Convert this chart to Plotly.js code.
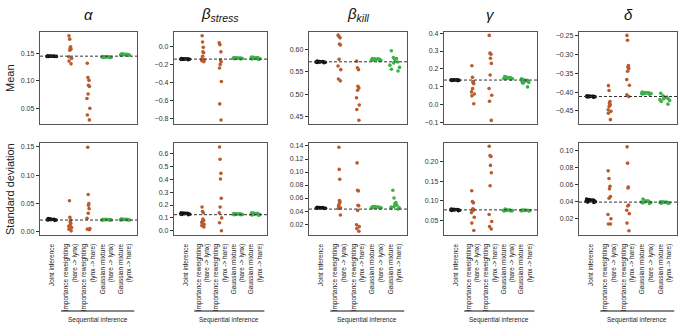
<!DOCTYPE html>
<html><head><meta charset="utf-8">
<script src="https://cdn.plot.ly/plotly-3.0.1.min.js"></script>
<style>html,body{margin:0;padding:0;background:#fff}#chart{width:685px;height:330px}</style>
</head><body><div id="chart"></div>
<script>
// ---------- categories & labels ----------
const categories = ["Joint inference", "Importance reweighting<br>(hare -> lynx)", "Importance reweighting<br>(lynx -> hare)", "Gaussian mixture<br>(hare -> lynx)", "Gaussian mixture<br>(lynx -> hare)"];
const paramTitles = ["<i>α</i>", "<i>β<sub>stress</sub></i>", "<i>β<sub>kill</sub></i>", "<i>γ</i>", "<i>δ</i>"];
const rowTitles = ["Mean", "Standard deviation"];
const seriesColors = ["#111111", "#bb5a2b", "#bb5a2b", "#3db04a", "#3db04a"];

// ---------- data: [joint, IR hare->lynx, IR lynx->hare, GM hare->lynx, GM lynx->hare] ----------
const meanAlpha = [
  [0.1445,0.1450,0.1448,0.1452,0.1446,0.1443,0.1455,0.1449,0.1447,0.1451],
  [0.182,0.176,0.162,0.160,0.158,0.156,0.144,0.141,0.136,0.131],
  [0.132,0.106,0.101,0.092,0.090,0.076,0.068,0.050,0.038,0.029],
  [0.1425,0.1430,0.1435,0.1428,0.1440,0.1432,0.1438,0.1427,0.1433,0.1442],
  [0.1465,0.1470,0.1480,0.1495,0.1475,0.1468,0.1485,0.1472,0.1478,0.1490]];
const meanBetaStress = [
  [-0.140,-0.137,-0.143,-0.145,-0.138,-0.141,-0.135,-0.147,-0.142,-0.139],
  [0.12,0.05,-0.01,-0.06,-0.07,-0.11,-0.14,-0.15,-0.16,-0.17],
  [0.04,0.02,-0.06,-0.15,-0.17,-0.20,-0.24,-0.39,-0.64,-0.82],
  [-0.130,-0.128,-0.135,-0.132,-0.125,-0.138,-0.130,-0.127,-0.133,-0.136],
  [-0.120,-0.125,-0.130,-0.135,-0.140,-0.118,-0.128,-0.133,-0.138,-0.145]];
const meanBetaKill = [
  [0.572,0.573,0.571,0.5725,0.5715,0.574,0.5705,0.573,0.572,0.5718],
  [0.632,0.629,0.626,0.612,0.610,0.578,0.563,0.555,0.534,0.530],
  [0.574,0.559,0.555,0.518,0.514,0.509,0.492,0.476,0.466,0.442],
  [0.576,0.578,0.579,0.577,0.580,0.575,0.578,0.577,0.579,0.576],
  [0.597,0.582,0.580,0.578,0.572,0.570,0.565,0.560,0.556,0.552]];
const meanGamma = [
  [0.138,0.139,0.137,0.140,0.136,0.138,0.139,0.137,0.135,0.138],
  [0.218,0.153,0.130,0.125,0.118,0.090,0.072,0.060,0.050,0.006],
  [0.387,0.288,0.282,0.260,0.231,0.166,0.091,0.053,0.020,-0.087],
  [0.150,0.145,0.148,0.155,0.143,0.152,0.147,0.157,0.146,0.150],
  [0.145,0.140,0.135,0.130,0.128,0.125,0.120,0.132,0.137,0.100]];
const meanDelta = [
  [-0.411,-0.412,-0.413,-0.4115,-0.410,-0.4125,-0.414,-0.411,-0.412,-0.4105],
  [-0.383,-0.396,-0.425,-0.430,-0.434,-0.438,-0.447,-0.451,-0.456,-0.473],
  [-0.250,-0.263,-0.330,-0.334,-0.338,-0.345,-0.367,-0.382,-0.407,-0.412],
  [-0.400,-0.402,-0.403,-0.401,-0.404,-0.405,-0.402,-0.403,-0.406,-0.404],
  [-0.403,-0.410,-0.413,-0.415,-0.417,-0.418,-0.420,-0.422,-0.425,-0.432]];
const sdAlpha = [
  [0.021,0.022,0.0215,0.0225,0.023,0.0205,0.022,0.021,0.0235,0.0218],
  [0.055,0.026,0.021,0.018,0.015,0.012,0.010,0.008,0.005,0.002],
  [0.149,0.066,0.050,0.047,0.041,0.033,0.024,0.006,0.005,0.004],
  [0.021,0.022,0.0215,0.0225,0.021,0.022,0.0212,0.0222,0.0218,0.0208],
  [0.021,0.022,0.0225,0.0215,0.023,0.021,0.0222,0.0218,0.0212,0.022]];
const sdBetaStress = [
  [0.130,0.125,0.135,0.140,0.128,0.132,0.138,0.127,0.133,0.136],
  [0.185,0.150,0.140,0.090,0.080,0.074,0.065,0.050,0.040,0.030],
  [0.651,0.556,0.446,0.402,0.253,0.185,0.139,0.100,0.062,0.000],
  [0.128,0.130,0.125,0.132,0.127,0.133,0.129,0.126,0.131,0.124],
  [0.125,0.130,0.135,0.128,0.122,0.138,0.132,0.127,0.140,0.120]];
const sdBetaKill = [
  [0.0445,0.045,0.044,0.0455,0.0448,0.0442,0.0452,0.0447,0.0443,0.0458],
  [0.138,0.104,0.089,0.056,0.054,0.051,0.048,0.045,0.044,0.034],
  [0.114,0.072,0.071,0.049,0.048,0.041,0.019,0.016,0.013,0.009],
  [0.045,0.046,0.0455,0.047,0.045,0.0458,0.0462,0.0452,0.0448,0.0465],
  [0.072,0.060,0.053,0.051,0.049,0.047,0.046,0.045,0.044,0.043]];
const sdGamma = [
  [0.077,0.076,0.078,0.075,0.079,0.0765,0.0775,0.0755,0.0785,0.077],
  [0.126,0.098,0.095,0.080,0.077,0.075,0.070,0.058,0.043,0.024],
  [0.240,0.216,0.214,0.191,0.172,0.139,0.065,0.047,0.034,0.028],
  [0.076,0.075,0.077,0.074,0.0765,0.079,0.0755,0.0745,0.076,0.075],
  [0.075,0.0755,0.076,0.0745,0.0752,0.0758,0.0748,0.0762,0.075,0.0765]];
const sdDelta = [
  [0.041,0.042,0.040,0.043,0.039,0.0415,0.0425,0.0405,0.0395,0.042],
  [0.076,0.067,0.058,0.055,0.046,0.044,0.025,0.020,0.014,0.014],
  [0.104,0.085,0.057,0.056,0.036,0.035,0.030,0.026,0.015,0.006],
  [0.040,0.041,0.038,0.043,0.039,0.040,0.0395,0.0385,0.041,0.0405],
  [0.039,0.0385,0.0395,0.038,0.040,0.0388,0.0392,0.0382,0.0398,0.039]];

// reference (dashed) line values per panel
const refMean = [0.145, -0.141, 0.5725, 0.138, -0.4117];
const refSd = [0.021, 0.125, 0.043, 0.077, 0.0395];

// y-axis tick settings
const yRanges = [[0.0215,0.189],[-0.864,0.161],[0.4337,0.639],[-0.107,0.406],[-0.4845,-0.241],
                 [-0.0053,0.1565],[-0.033,0.682],[0.0032,0.1446],[0.0125,0.2485],[0.0011,0.1085]];
const yDticks = [0.05,0.2,0.05,0.1,0.05, 0.05,0.1,0.02,0.05,0.02];
const yFormats = [".2f",".1f",".2f",".1f",".2f", ".2f",".1f",".2f",".2f",".2f"];

// ---------- layout geometry (pixels) ----------
const W = 685, H = 330;
const colPx = [[40,137],[174,267],[309,407],[444,537],[579,677]];
const rowPx = [[32,124],[143,235]];

const panels = [meanAlpha, meanBetaStress, meanBetaKill, meanGamma, meanDelta,
                sdAlpha, sdBetaStress, sdBetaKill, sdGamma, sdDelta];
const refs = refMean.concat(refSd);

const traces = [];
const layout = {
  width: W, height: H, margin: {l:0,r:0,t:0,b:0},
  paper_bgcolor: "#fff", plot_bgcolor: "#fff",
  font: {family: "Liberation Sans, Arial, sans-serif", color: "#222"},
  showlegend: false, boxmode: "overlay",
  shapes: [], annotations: []
};

panels.forEach((groups, k) => {
  const n = k + 1;
  const row = k < 5 ? 0 : 1;
  const col = k % 5;
  const xa = "x" + n, ya = "y" + n;
  groups.forEach((vals, c) => {
    traces.push({
      type: "box", x0: c, y: vals, xaxis: xa, yaxis: ya,
      boxpoints: "all", jitter: 1, pointpos: 0,
      width: (c === 1 || c === 2) ? 0.2 : 0.65,
      fillcolor: "rgba(0,0,0,0)", line: {width: 0, color: "rgba(0,0,0,0)"},
      whiskerwidth: 0,
      marker: {size: 3.6, color: seriesColors[c], line: {width: 0}},
      hoverinfo: "skip", showlegend: false
    });
  });
  layout["xaxis" + (n === 1 ? "" : n)] = {
    domain: [colPx[col][0]/W, colPx[col][1]/W], anchor: ya,
    range: [-0.65, 4.65], showgrid: false, zeroline: false,
    showline: true, mirror: true, linecolor: "#555", linewidth: 1.2,
    tickvals: [0,1,2,3,4], ticktext: categories,
    showticklabels: row === 1, ticks: "", tickangle: -90,
    ticklabelstandoff: 5,
    tickfont: {size: 6.5, color: "#222"}
  };
  layout["yaxis" + (n === 1 ? "" : n)] = {
    domain: [1 - rowPx[row][1]/H, 1 - rowPx[row][0]/H], anchor: xa,
    range: yRanges[k], showgrid: false, zeroline: false,
    showline: true, mirror: true, linecolor: "#555", linewidth: 1.2,
    ticks: "outside", ticklen: 3, tickwidth: 1, tickcolor: "#333",
    tick0: 0, dtick: yDticks[k], tickformat: yFormats[k],
    tickfont: {size: 7, color: "#333"}
  };
  layout.shapes.push({
    type: "line", xref: xa + " domain", yref: ya, x0: 0, x1: 1, y0: refs[k], y1: refs[k],
    line: {color: "#333", width: 1, dash: "3px,2px"}
  });
  if (row === 0) {
    layout.annotations.push({
      xref: xa + " domain", x: 0.5, yref: "paper", y: 1 - 15/H,
      text: paramTitles[col], showarrow: false, xanchor: "center", yanchor: "middle",
      font: {size: 15, color: "#111"}
    });
  } else {
    layout.shapes.push({
      type: "line", xref: xa, yref: "paper", x0: 0.5, x1: 4.5, y0: 1 - 311/H, y1: 1 - 311/H,
      line: {color: "#111", width: 1}
    });
    layout.annotations.push({
      xref: xa, x: 2.5, yref: "paper", y: 1 - 320/H,
      text: "Sequential inference", showarrow: false, xanchor: "center", yanchor: "middle",
      font: {size: 6.5, color: "#222"}
    });
  }
});

rowTitles.forEach((t, r) => {
  layout.annotations.push({
    xref: "paper", x: 10/W, yref: "paper", y: 1 - ((rowPx[r][0] + rowPx[r][1]) / 2) / H,
    text: t, textangle: -90, showarrow: false, xanchor: "center", yanchor: "middle",
    font: {size: 11, color: "#222"}
  });
});

Plotly.newPlot("chart", traces, layout, {staticPlot: true, displayModeBar: false});
</script></body></html>
